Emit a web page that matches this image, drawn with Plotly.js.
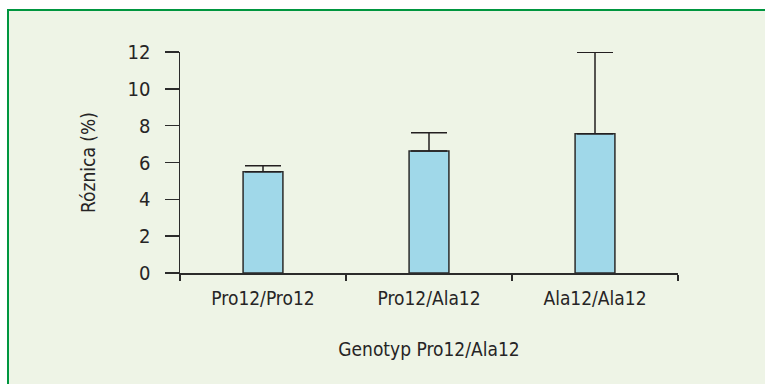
<!DOCTYPE html>
<html>
<head>
<meta charset="utf-8">
<script src="https://cdn.plot.ly/plotly-3.0.1.min.js"></script>
<style>html,body{margin:0;padding:0;background:#fff;overflow:hidden;}#chart{width:765px;height:384px;}</style>
</head>
<body>
<div id="chart"></div>
<script>
const categories = ["Pro12/Pro12", "Pro12/Ala12", "Ala12/Ala12"];
const values = [5.5, 6.62, 7.56];
const errorsUp = [0.33, 1.0, 4.42];
const errorsDown = [0, 0, 0];
const yTicks = [0, 2, 4, 6, 8, 10, 12];

const FONT = '"DejaVu Sans Condensed", "Liberation Sans", Arial, sans-serif';
const TXT = '#262425';

const trace = {
  type: 'bar',
  x: categories,
  y: values,
  width: 0.24,
  marker: {color: '#a0d8e9', line: {color: '#2b2b2b', width: 1.5}},
  error_y: {type: 'data', symmetric: false, array: errorsUp, arrayminus: errorsDown,
            color: '#231f20', thickness: 1.5, width: 18},
  hoverinfo: 'none'
};

// frame geometry in paper units (plot area spans x 180..678 px, y 52..273 px)
const fx0 = (8 - 180) / 498, fx1 = (800 - 180) / 498;
const fy0 = (273 - 420) / 221, fy1 = (273 - 10) / 221;

const layout = {
  width: 765, height: 384,
  margin: {l: 180, r: 87, t: 52, b: 111},
  paper_bgcolor: '#ffffff',
  plot_bgcolor: 'rgba(0,0,0,0)',
  showlegend: false,
  font: {family: FONT, color: TXT, size: 19},
  xaxis: {
    type: 'category', range: [-0.5, 2.5],
    showline: true, linecolor: '#2b2b2b', linewidth: 1.5,
    ticks: 'outside', ticklen: 6, tickwidth: 1.5, tickcolor: '#2b2b2b',
    tickson: 'boundaries', showgrid: false, zeroline: false,
    tickfont: {family: FONT, size: 19, color: TXT},
    ticklabelstandoff: 8,
    title: {text: 'Genotyp Pro12/Ala12', font: {family: FONT, size: 19, color: TXT}, standoff: 34}
  },
  yaxis: {
    range: [0, 12], tickvals: yTicks, ticktext: yTicks.map(String),
    showline: true, linecolor: '#2b2b2b', linewidth: 1.5,
    ticks: 'outside', ticklen: 14, tickwidth: 1.5, tickcolor: '#2b2b2b',
    showgrid: false, zeroline: false,
    tickfont: {family: FONT, size: 20, color: TXT},
    ticklabelstandoff: 10,
    title: {text: 'Róznica (%)', font: {family: FONT, size: 19, color: TXT}, standoff: 27}
  },
  shapes: [
    {type: 'rect', xref: 'paper', yref: 'paper', layer: 'below',
     x0: fx0, x1: fx1, y0: fy0, y1: fy1,
     fillcolor: '#eef4e6', line: {width: 0}},
    {type: 'path', xref: 'paper', yref: 'paper', layer: 'below',
     path: `M ${fx0},${fy0} L ${fx0},${fy1} L ${fx1},${fy1}`,
     line: {color: '#00963f', width: 2}}
  ]
};

Plotly.newPlot('chart', [trace], layout, {staticPlot: true, displayModeBar: false});
</script>
</body>
</html>
